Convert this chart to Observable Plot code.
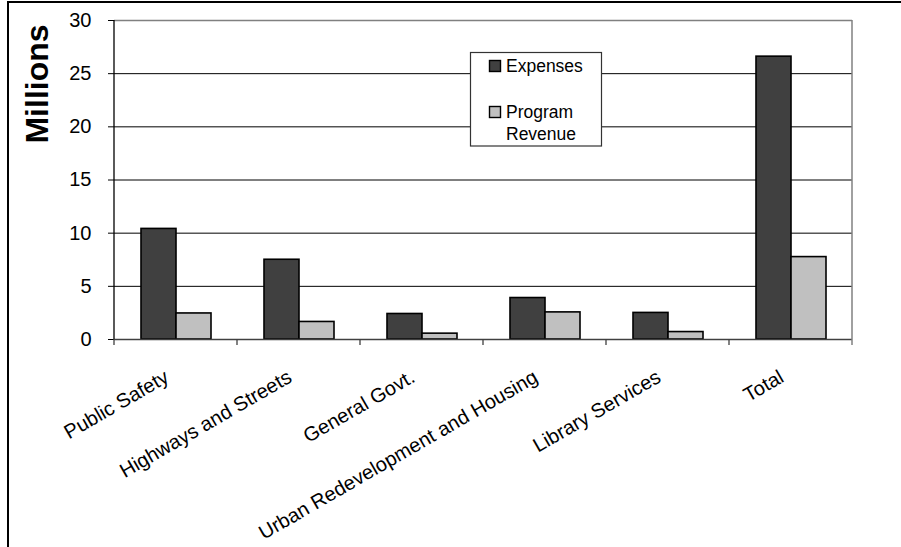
<!DOCTYPE html>
<html><head><meta charset="utf-8">
<script src="https://cdn.jsdelivr.net/npm/d3@7"></script>
<script src="https://cdn.jsdelivr.net/npm/@observablehq/plot@0.6"></script>
<style>
html,body{margin:0;padding:0;background:#fff;overflow:hidden;width:901px;height:547px}
#wrap{position:relative;width:901px;height:547px;overflow:hidden}
#wrap svg.chart{position:absolute;left:0;top:0}
#border{position:absolute;left:7px;top:1px;width:2000px;height:2000px;border:2px solid #000;box-sizing:border-box;pointer-events:none}
</style></head><body><div id="wrap"><div id="border"></div></div>
<script>
const categories = ["Public Safety", "Highways and Streets", "General Govt.", "Urban Redevelopment and Housing", "Library Services", "Total"];
const series = ["Expenses", "Program Revenue"];
const expenses = [10.4, 7.5, 2.4, 3.9, 2.5, 26.6];
const programRevenue = [2.45, 1.65, 0.55, 2.55, 0.7, 7.75];
const yTicks = [0, 5, 10, 15, 20, 25, 30];
const seriesColors = ["#404040", "#c0c0c0"];
const yLabel = "Millions";

const data = categories.flatMap((c, i) => [
  {category: c, series: series[0], value: expenses[i]},
  {category: c, series: series[1], value: programRevenue[i]}
]);

const FONT = "'Liberation Sans', Arial, sans-serif";

const chart = Plot.plot({
  width: 901, height: 547,
  marginLeft: 114, marginRight: 49, marginTop: 20, marginBottom: 208,
  style: {fontFamily: FONT, fontSize: "17px", background: "transparent", color: "#000", overflow: "visible"},
  fx: {domain: categories, padding: 0, label: null},
  x: {domain: series, paddingInner: 0, paddingOuter: 0.74, axis: null},
  y: {domain: [0, 30], label: null},
  color: {domain: series, range: seriesColors},
  marks: [
    Plot.ruleY(yTicks.filter(d => d > 0 && d < 30), {stroke: "#000", strokeWidth: 1}),
    Plot.ruleY([30], {stroke: "#808080", strokeWidth: 1.5}),
    Plot.barY(data, {fx: "category", x: "series", y: "value", fill: "series", stroke: "#000", strokeWidth: 1.6}),
    Plot.ruleY([0], {stroke: "#404040", strokeWidth: 1.5}),
    Plot.axisY({ticks: yTicks, tickSize: 6, tickPadding: 17, fontSize: 20, label: null, stroke: "#000"}),
    Plot.axisFx({anchor: "bottom", tickRotate: -30, tickSize: 0, tickPadding: 36, dx: -9, fontSize: 20, label: null})
  ]
});
chart.classList.add("chart");
document.getElementById("wrap").appendChild(chart);

// plot-area frame pieces, category boundary ticks, y title and legend (positions from the library's scales)
const svg = d3.select(chart);
const fx = chart.scale("fx");
const ys = chart.scale("y");
const left = fx.apply(categories[0]);
const right = fx.apply(categories[categories.length - 1]) + fx.bandwidth;
const y0 = ys.apply(0), yTop = ys.apply(30);
const g = svg.append("g");
g.append("line").attr("x1", right).attr("x2", right).attr("y1", yTop).attr("y2", y0 + 6)
  .attr("stroke", "#808080").attr("stroke-width", 1.5);
g.append("line").attr("x1", left).attr("x2", left).attr("y1", yTop).attr("y2", y0)
  .attr("stroke", "#000").attr("stroke-width", 1.3);
categories.forEach(c => {
  const xx = fx.apply(c);
  g.append("line").attr("x1", xx).attr("x2", xx).attr("y1", y0).attr("y2", y0 + 6)
    .attr("stroke", "#404040").attr("stroke-width", 1.3);
});

// y title
svg.append("text").text(yLabel)
  .attr("transform", "translate(48,84) rotate(-90)")
  .attr("text-anchor", "middle").attr("font-weight", "bold").attr("font-size", 32)
  .attr("font-family", FONT).attr("fill", "#000");

// legend
const lg = svg.append("g").attr("font-family", FONT).attr("font-size", 17.5).attr("text-anchor", "start");
lg.append("rect").attr("x", 470.5).attr("y", 52.5).attr("width", 131).attr("height", 93.5)
  .attr("fill", "#fff").attr("stroke", "#333").attr("stroke-width", 1.2);
const legendRows = [
  {lines: [series[0]], y: 60},
  {lines: ["Program", "Revenue"], y: 106}
];
legendRows.forEach((r, i) => {
  lg.append("rect").attr("x", 489.5).attr("y", r.y + 0.5).attr("width", 11).attr("height", 11)
    .attr("fill", seriesColors[i]).attr("stroke", "#000").attr("stroke-width", 1.4);
  r.lines.forEach((t, j) => {
    lg.append("text").text(t).attr("x", 506).attr("y", r.y + 12 + j * 22)
      .attr("text-anchor", "start").attr("fill", "#000");
  });
});
</script></body></html>
